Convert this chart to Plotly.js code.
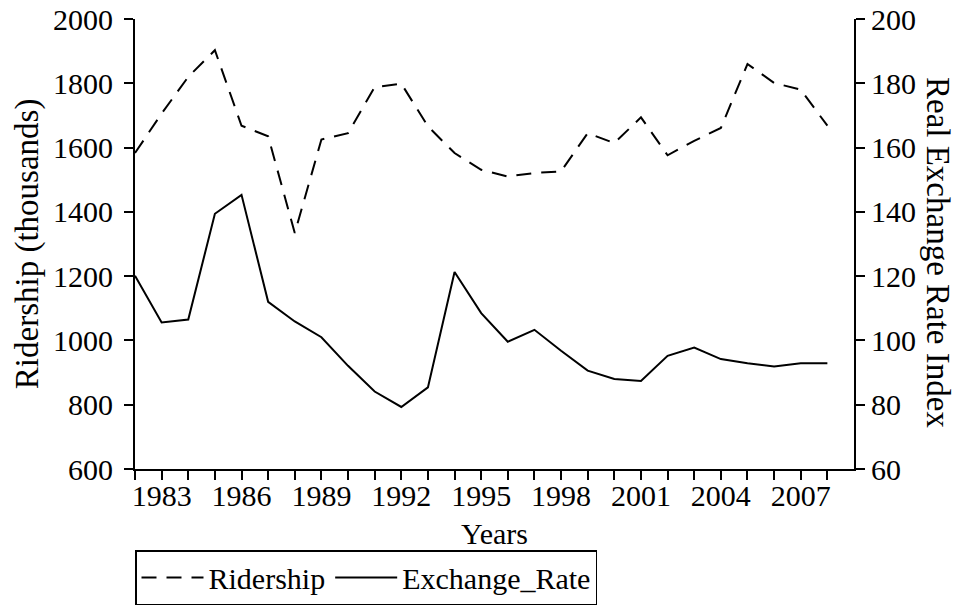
<!DOCTYPE html>
<html>
<head>
<meta charset="utf-8">
<script src="https://cdn.plot.ly/plotly-3.0.1.min.js"></script>
<style>html,body{margin:0;padding:0;background:#fff;}#chart{width:963px;height:605px;}</style>
</head>
<body>
<div id="chart"></div>
<script>
const years = [1982,1983,1984,1985,1986,1987,1988,1989,1990,1991,1992,1993,1994,1995,1996,1997,1998,1999,2000,2001,2002,2003,2004,2005,2006,2007,2008];
const ridership = [1583,1706,1820,1903,1668,1635,1334,1625,1645,1788,1799,1666,1583,1531,1510,1521,1526,1645,1614,1694,1576,1621,1661,1860,1801,1780,1668];
const exchangeRate = [120.1,105.6,106.5,139.4,145.3,112.0,105.9,101.0,92.1,84.1,79.3,85.4,121.3,108.5,99.6,103.3,96.8,90.6,88.0,87.4,95.2,97.8,94.2,92.9,91.9,92.9,92.9];
const xTickText = ["","1983","","","1986","","","1989","","","1992","","","1995","","","1998","","","2001","","","2004","","","2007",""];
const yLeftTicks = [600,800,1000,1200,1400,1600,1800,2000];
const yRightTicks = [60,80,100,120,140,160,180,200];

const FONT = "'Liberation Serif', 'Times New Roman', serif";

const traces = [
  {x: years, y: ridership, name: "Ridership", type: "scatter", mode: "lines",
   line: {color: "#000", width: 2, dash: "15px,10px"}, yaxis: "y"},
  {x: years, y: exchangeRate, name: "Exchange_Rate", type: "scatter", mode: "lines",
   line: {color: "#000", width: 2}, yaxis: "y2"}
];

const layout = {
  width: 963, height: 605,
  margin: {l: 135, r: 109, t: 19, b: 136, pad: 0, autoexpand: false},
  paper_bgcolor: "#fff", plot_bgcolor: "#fff",
  font: {family: FONT, size: 30, color: "#000"},
  showlegend: true,
  legend: {orientation: "h", x: 0, xanchor: "left", yref: "container", y: 0.0909, yanchor: "top",
           bordercolor: "#000", borderwidth: 1.5, font: {family: FONT, size: 30, color: "#000"},
           traceorder: "normal", itemwidth: 62, tracegroupgap: 0},
  xaxis: {range: [1982, 2009], tickmode: "array", tickvals: years, ticktext: xTickText,
          ticks: "outside", ticklen: 9, tickwidth: 2, tickcolor: "#000", ticklabelstandoff: -10,
          showline: true, linecolor: "#000", linewidth: 2, showgrid: false, zeroline: false,
          tickfont: {family: FONT, size: 30, color: "#000"}},
  yaxis: {range: [600, 2000], tickmode: "array", tickvals: yLeftTicks,
          ticks: "outside", ticklen: 9, tickwidth: 2, tickcolor: "#000", ticklabelstandoff: 5,
          showline: true, linecolor: "#000", linewidth: 2, showgrid: false, zeroline: false,
          tickfont: {family: FONT, size: 30, color: "#000"}},
  yaxis2: {range: [60, 200], tickmode: "array", tickvals: yRightTicks, overlaying: "y", side: "right",
          ticks: "outside", ticklen: 9, tickwidth: 2, tickcolor: "#000",
          showline: true, linecolor: "#000", linewidth: 2, showgrid: false, zeroline: false,
          tickfont: {family: FONT, size: 30, color: "#000"}},
  annotations: [
    {text: "Ridership (thousands)", xref: "paper", yref: "paper", x: -0.150, y: 0.5,
     xanchor: "center", yanchor: "middle", textangle: -90, showarrow: false,
     font: {family: FONT, size: 33, color: "#000"}},
    {text: "Real Exchange Rate Index", xref: "paper", yref: "paper", x: 1.117, y: 0.482,
     xanchor: "center", yanchor: "middle", textangle: 90, showarrow: false,
     font: {family: FONT, size: 33, color: "#000"}},
    {text: "Years", xref: "paper", yref: "paper", x: 0.5, y: -0.143,
     xanchor: "center", yanchor: "middle", showarrow: false,
     font: {family: FONT, size: 30, color: "#000"}}
  ]
};

Plotly.newPlot("chart", traces, layout, {displayModeBar: false, staticPlot: true});
</script>
</body>
</html>
